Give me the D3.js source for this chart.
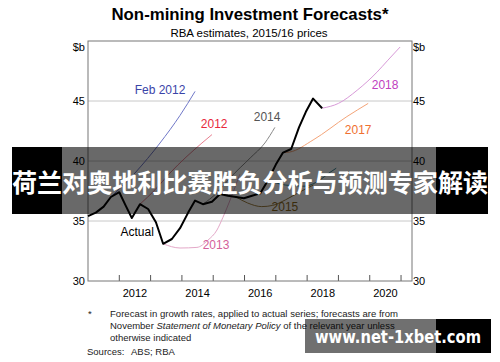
<!DOCTYPE html>
<html>
<head>
<meta charset="utf-8">
<script src="https://cdn.jsdelivr.net/npm/d3@7"></script>
<style>
  body { margin: 0; background: #fff; }
  svg { display: block; font-family: "Liberation Sans", Arial, sans-serif; }
</style>
</head>
<body>
<div id="chart"></div>
<script>
// Actual series, [year, $b]
var actual = [
  [2011.0, 35.4], [2011.25, 35.7], [2011.5, 36.2], [2011.73, 37.0], [2012.0, 37.4],
  [2012.2, 36.3], [2012.4, 35.25], [2012.66, 36.4], [2012.92, 36.0], [2013.17, 34.9],
  [2013.4, 33.1], [2013.68, 33.5], [2013.94, 34.4], [2014.2, 35.7], [2014.42, 36.7],
  [2014.67, 36.4], [2014.96, 36.6], [2015.22, 37.25], [2015.47, 37.1], [2015.73, 37.0],
  [2015.98, 36.9], [2016.24, 37.1], [2016.5, 37.3], [2016.75, 38.4], [2017.0, 39.7],
  [2017.23, 40.7], [2017.49, 41.0], [2017.74, 42.8], [2017.96, 44.1], [2018.19, 45.2],
  [2018.48, 44.4]
]

// Forecast series
var feb2012 = [[2011.73, 37.0], [2012.5, 39.0], [2013.3, 41.5], [2013.94, 43.8], [2014.42, 45.8]]
var f2012 = [[2012.66, 36.4], [2013.14, 37.6], [2013.62, 39.0], [2014.64, 41.5], [2014.96, 42.2]]
var f2013 = [[2013.4, 33.1], [2013.94, 32.75], [2014.48, 32.8], [2014.83, 33.4], [2015.12, 34.25],
  [2015.31, 35.3], [2015.54, 36.75], [2015.85, 38.9]]
var f2014 = [[2014.67, 36.4], [2015.1, 37.3], [2015.54, 38.6], [2016.18, 40.25], [2016.65, 41.5], [2016.97, 42.8]]
var f2015 = [[2015.73, 37.0], [2016.1, 36.5], [2016.55, 36.2], [2016.9, 36.3], [2017.3, 36.75],
  [2017.75, 37.4], [2018.2, 38.0]]
var f2016 = [[2016.75, 38.4], [2017.3, 38.0], [2017.9, 37.9], [2018.4, 38.4], [2018.7, 39.0], [2018.93, 39.4]]
var f2017 = [[2017.23, 40.7], [2017.45, 40.75], [2018.19, 41.75], [2019.27, 43.7], [2019.95, 44.8]]
var f2018 = [[2018.48, 44.4], [2019.0, 44.8], [2019.6, 45.9], [2020.23, 47.4], [2020.58, 48.4], [2020.97, 49.5]]

var yTicks = [30, 35, 40, 45]
var xTickYears = [2012, 2013, 2014, 2015, 2016, 2017, 2018, 2019, 2020, 2021]
var xLabels = [2012, 2014, 2016, 2018, 2020]

var series = [
  { name: "Feb 2012", data: feb2012, color: "#7078c8", label: "#3a44a8", at: [2013.3, 45.9] },
  { name: "2012", data: f2012, color: "#e88090", label: "#e8283c", at: [2015.03, 43.1] },
  { name: "2013", data: f2013, color: "#e4a8c8", label: "#d45f9a", at: [2015.09, 33.0] },
  { name: "2014", data: f2014, color: "#888888", label: "#555555", at: [2016.72, 43.7] },
  { name: "2015", data: f2015, color: "#a08040", label: "#8c6a1c", at: [2017.29, 36.2] },
  { name: "2016", data: f2016, color: "#3c8898", label: null, at: null },
  { name: "2017", data: f2017, color: "#f4a478", label: "#f07030", at: [2019.63, 42.6] },
  { name: "2018", data: f2018, color: "#d89ad8", label: "#c040c0", at: [2020.49, 46.3] }
]

var W = 500, H = 362
var svg = d3.select("#chart").append("svg").attr("width", W).attr("height", H)

var x = d3.scaleLinear().domain([2011, 2021.35]).range([88, 412])
var y = d3.scaleLinear().domain([30, 50]).range([281, 41])

// title
svg.append("text").attr("x", 250).attr("y", 20).attr("text-anchor", "middle")
  .style("font-size", "16.5px").style("font-weight", "bold")
  .attr("textLength", 277).attr("lengthAdjust", "spacingAndGlyphs")
  .text("Non-mining Investment Forecasts*")
svg.append("text").attr("x", 249).attr("y", 37).attr("text-anchor", "middle")
  .style("font-size", "11.5px")
  .text("RBA estimates, 2015/16 prices")

// gridlines
svg.selectAll(".grid").data(yTicks.slice(1)).enter().append("line")
  .attr("x1", x.range()[0]).attr("x2", x.range()[1])
  .attr("y1", d => y(d)).attr("y2", d => y(d))
  .attr("stroke", "#c8c8c8").attr("stroke-width", 1)

// bottom ticks (inside)
svg.selectAll(".xt").data(xTickYears).enter().append("line")
  .attr("x1", d => x(d)).attr("x2", d => x(d))
  .attr("y1", y(30)).attr("y2", y(30) - 6)
  .attr("stroke", "#555")

// frame
svg.append("rect").attr("x", x.range()[0]).attr("y", y(50))
  .attr("width", x.range()[1] - x.range()[0]).attr("height", y(30) - y(50))
  .attr("fill", "none").attr("stroke", "#777").attr("stroke-width", 1)

// y labels
var yl = svg.append("g").style("font-size", "11px")
yl.selectAll(".yl").data(yTicks).enter().append("text")
  .attr("x", 85).attr("y", d => y(d) + 4).attr("text-anchor", "end").text(d => d)
yl.selectAll(".yr").data(yTicks).enter().append("text")
  .attr("x", 413).attr("y", d => y(d) + 4).attr("text-anchor", "start").text(d => d)
yl.append("text").attr("x", 85).attr("y", 51).attr("text-anchor", "end").text("$b")
yl.append("text").attr("x", 413).attr("y", 51).attr("text-anchor", "start").text("$b")

// x labels
svg.selectAll(".xl").data(xLabels).enter().append("text")
  .attr("x", d => x(d + 0.5)).attr("y", 297).attr("text-anchor", "middle")
  .style("font-size", "11px").text(d => d)

// lines
var smooth = d3.line().x(d => x(d[0])).y(d => y(d[1])).curve(d3.curveMonotoneX)
var straight = d3.line().x(d => x(d[0])).y(d => y(d[1]))

svg.selectAll(".fc").data(series).enter().append("path")
  .attr("d", d => smooth(d.data))
  .attr("fill", "none").attr("stroke", d => d.color).attr("stroke-width", 1)

svg.append("path").attr("d", straight(actual))
  .attr("fill", "none").attr("stroke", "#000").attr("stroke-width", 2)
  .attr("stroke-linejoin", "round")

// series labels
svg.selectAll(".lab").data(series.filter(d => d.at)).enter().append("text")
  .attr("x", d => x(d.at[0])).attr("y", d => y(d.at[1]) + 4)
  .attr("text-anchor", "middle").style("font-size", "12px")
  .attr("fill", d => d.label).text(d => d.name)
svg.append("text").attr("x", x(2012.57)).attr("y", y(34.1) + 4)
  .attr("text-anchor", "middle").style("font-size", "12px").text("Actual")

// footnotes
var fn = svg.append("g").style("font-size", "9.5px").attr("fill", "#222")
fn.append("text").attr("x", 88).attr("y", 317).text("*")
fn.append("text").attr("x", 110).attr("y", 317)
  .attr("textLength", 288).attr("lengthAdjust", "spacingAndGlyphs")
  .text("Forecast in growth rates, applied to actual series; forecasts are from")
var l2 = fn.append("text").attr("x", 110).attr("y", 329)
l2.append("tspan").text("November ")
l2.append("tspan").style("font-style", "italic").text("Statement of Monetary Policy")
l2.append("tspan").text(" of the relevant year unless")
fn.append("text").attr("x", 110).attr("y", 341).text("otherwise indicated")
fn.append("text").attr("x", 87).attr("y", 355).text("Sources:")
fn.append("text").attr("x", 131).attr("y", 355).text("ABS; RBA")

// overlay banner
var ban = svg.append("g")
ban.append("rect").attr("x", 12).attr("y", 147).attr("width", 50).attr("height", 67).attr("fill", "#000")
ban.append("rect").attr("x", 62).attr("y", 147).attr("width", 374).attr("height", 67).attr("fill", "rgba(0,0,0,0.59)")
ban.append("rect").attr("x", 436).attr("y", 147).attr("width", 52).attr("height", 67).attr("fill", "#000")
ban.append("text").attr("x", 250).attr("y", 192).attr("text-anchor", "middle")
  .style("font-family", "'Noto Sans CJK SC', sans-serif").style("font-size", "25px")
  .style("font-weight", "bold").attr("fill", "#fff")
  .attr("textLength", 476).attr("lengthAdjust", "spacingAndGlyphs")
  .text("荷兰对奥地利比赛胜负分析与预测专家解读")

// watermark box
var wm = svg.append("g")
wm.append("rect").attr("x", 305).attr("y", 319).attr("width", 131).attr("height", 34).attr("fill", "rgba(0,0,0,0.56)")
wm.append("rect").attr("x", 436).attr("y", 319).attr("width", 55).attr("height", 34).attr("fill", "#000")
wm.append("text").attr("x", 315).attr("y", 343)
  .style("font-family", "'DejaVu Sans', sans-serif").style("font-size", "18px")
  .style("font-weight", "bold").attr("fill", "#fff")
  .attr("textLength", 166).attr("lengthAdjust", "spacingAndGlyphs")
  .text("www.net-1xbet.com")
</script>
</body>
</html>
